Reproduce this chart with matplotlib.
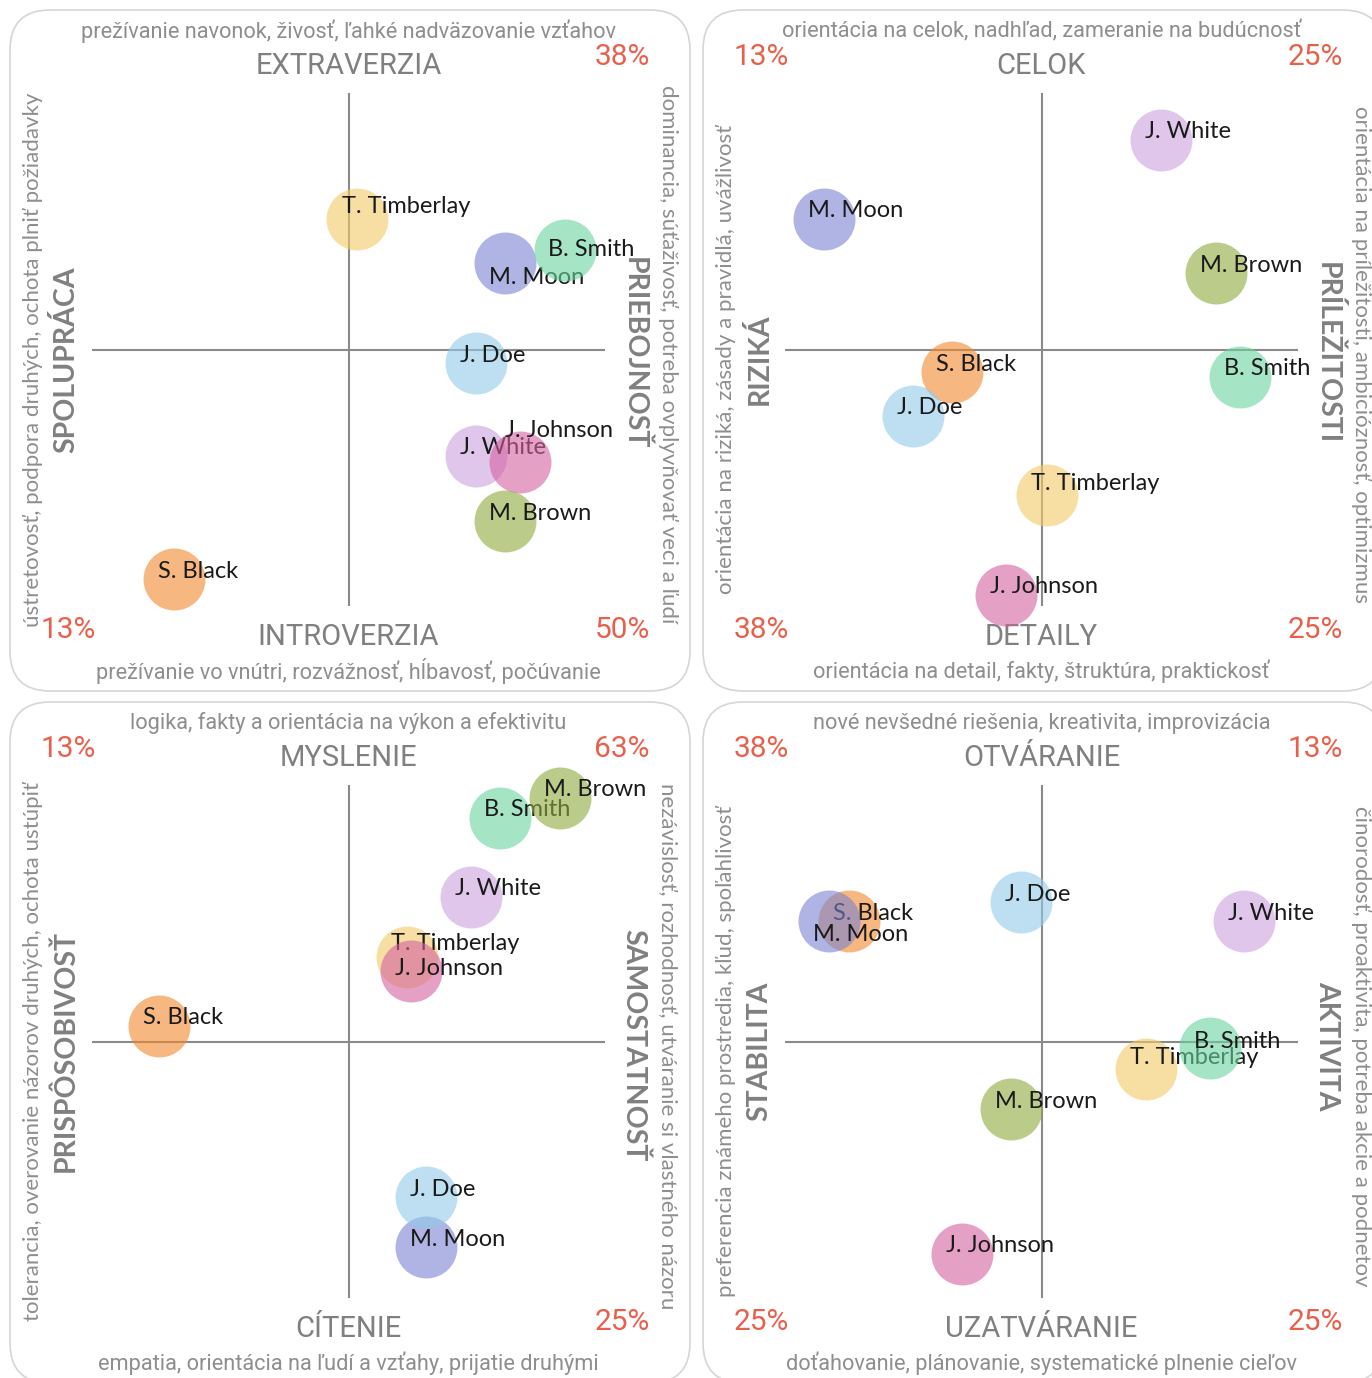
"""Four-quadrant team profile chart (bubbles per person)"""

import numpy as np
import matplotlib
matplotlib.use('Agg')
import matplotlib.pyplot as plt
from matplotlib.patches import FancyBboxPatch

W, H = 1372, 1378

names = ['S. Black', 'M. Moon', 'J. Doe', 'T. Timberlay', 'B. Smith', 'J. White', 'J. Johnson', 'M. Brown']
colors = ['#f0892b', '#7b82d2', '#91cbe9', '#f3cb67', '#6bd2a0', '#cda0df', '#d561a0', '#8faa3c']

# positions on each axis pair, -1..1, same order as names
ext_x = [-0.68, 0.61, 0.497, 0.033, 0.844, 0.497, 0.669, 0.61]
ext_y = [-0.895, 0.337, -0.053, 0.509, 0.388, -0.415, -0.439, -0.669]
cel_x = [-0.348, -0.848, -0.5, 0.023, 0.773, 0.465, -0.137, 0.68]
cel_y = [-0.088, 0.509, -0.259, -0.567, -0.107, 0.817, -0.957, 0.298]
mys_x = [-0.739, 0.302, 0.302, 0.228, 0.591, 0.478, 0.244, 0.825]
mys_y = [0.062, -0.803, -0.608, 0.331, 0.873, 0.565, 0.273, 0.951]
otv_x = [-0.75, -0.828, -0.078, 0.406, 0.656, 0.789, -0.309, -0.117]
otv_y = [0.468, 0.468, 0.542, -0.109, -0.027, 0.468, -0.827, -0.265]

panels = [
    dict(x=ext_x, y=ext_y,
         top='EXTRAVERZIA', top_desc='prežívanie navonok, živosť, ľahké nadväzovanie vzťahov',
         bottom='INTROVERZIA', bottom_desc='prežívanie vo vnútri, rozvážnosť, hĺbavosť, počúvanie',
         left='SPOLUPRÁCA', left_desc='ústretovosť, podpora druhých, ochota plniť požiadavky',
         right='PRIEBOJNOSŤ', right_desc='dominancia, súťaživosť, potreba ovplyvňovať veci a ľudí'),
    dict(x=cel_x, y=cel_y,
         top='CELOK', top_desc='orientácia na celok, nadhľad, zameranie na budúcnosť',
         bottom='DETAILY', bottom_desc='orientácia na detail, fakty, štruktúra, praktickosť',
         left='RIZIKÁ', left_desc='orientácia na riziká, zásady a pravidlá, uvážlivosť',
         right='PRÍLEŽITOSTI', right_desc='orientácia na príležitosti, ambicióznosť, optimizmus'),
    dict(x=mys_x, y=mys_y,
         top='MYSLENIE', top_desc='logika, fakty a orientácia na výkon a efektivitu',
         bottom='CÍTENIE', bottom_desc='empatia, orientácia na ľudí a vzťahy, prijatie druhými',
         left='PRISPÔSOBIVOSŤ', left_desc='tolerancia, overovanie názorov druhých, ochota ustúpiť',
         right='SAMOSTATNOSŤ', right_desc='nezávislosť, rozhodnosť, utváranie si vlastného názoru'),
    dict(x=otv_x, y=otv_y,
         top='OTVÁRANIE', top_desc='nové nevšedné riešenia, kreativita, improvizácia',
         bottom='UZATVÁRANIE', bottom_desc='doťahovanie, plánovanie, systematické plnenie cieľov',
         left='STABILITA', left_desc='preferencia známeho prostredia, kľud, spoľahlivosť',
         right='AKTIVITA', right_desc='činorodosť, proaktivita, potreba akcie a podnetov'),
]

# label nudges in pixels (dx, dy up), default is left of centre and a bit up
label_nudge = [
    {'T. Timberlay': (-15, 12), 'M. Moon': (-16, -14), 'B. Smith': (-17, 0), 'J. Johnson': (-15, 32)},
    {'T. Timberlay': (-16, 11)},
    {'T. Timberlay': (-16, 13), 'J. Johnson': (-16, 3)},
    {'M. Moon': (-16, -13), 'B. Smith': (-16, 7), 'T. Timberlay': (-16, 12)},
]

GRAY_DESC = '#8e8e8e'
GRAY_TITLE = '#808080'
RED = '#e8604c'
DESC_FONT = 'Roboto'
SIDE_FONT = 'Lato'

fig = plt.figure(figsize=(W / 100, H / 100), dpi=100)
bg = fig.add_axes([0, 0, 1, 1])
bg.set_xlim(0, W)
bg.set_ylim(H, 0)
bg.axis('off')

offsets = [(0, 0), (693, 0), (0, 692), (693, 692)]

for k, (p, (ox, oy)) in enumerate(zip(panels, offsets)):
    bg.add_patch(FancyBboxPatch((10 + ox, 10 + oy), 680, 681,
                                boxstyle='round,pad=0,rounding_size=40',
                                fc='white', ec='#d6d6d6', lw=1.2))
    cx, cy = 348.5 + ox, 349.5 + oy

    ax = fig.add_axes([(92 + ox) / W, 1 - (606 + oy) / H, 513 / W, 513 / H])
    ax.set_xlim(-1, 1)
    ax.set_ylim(-1, 1)
    ax.axis('off')
    ax.patch.set_alpha(0)
    ax.plot([-1, 1], [0, 0], color='#8a8a8a', lw=1.5, zorder=1)
    ax.plot([0, 0], [-1, 1], color='#8a8a8a', lw=1.5, zorder=1)

    for i, (n, c, xv, yv) in enumerate(zip(names, colors, p['x'], p['y'])):
        ax.scatter([xv], [yv], s=1990, color=c, alpha=0.6, lw=0, zorder=2 + i, clip_on=False)
        dx, dy = label_nudge[k].get(n, (-16, 8))
        ax.annotate(n, (xv, yv), xytext=(dx, dy), textcoords='offset pixels',
                    ha='left', va='center', fontsize=17, family=SIDE_FONT,
                    color='#1a1a1a', zorder=2.5 + i, annotation_clip=False)

    # share of people in each quadrant
    xs, ys = np.array(p['x']), np.array(p['y'])
    quads = [(xs < 0) & (ys > 0), (xs > 0) & (ys > 0), (xs < 0) & (ys < 0), (xs > 0) & (ys < 0)]
    spots = [(68 + ox, 57 + oy), (622 + ox, 57 + oy), (68 + ox, 630 + oy), (622 + ox, 630 + oy)]
    for q, (sx, sy) in zip(quads, spots):
        pct = int(np.floor(100 * q.sum() / len(xs) + 0.5))
        if pct > 0:
            bg.text(sx, sy, f'{pct}%', ha='center', va='center', fontsize=21.5,
                    family=DESC_FONT, color=RED)

    bg.text(cx, 31 + oy, p['top_desc'], ha='center', va='center', fontsize=15.7,
            family=DESC_FONT, color=GRAY_DESC)
    bg.text(cx, 66 + oy, p['top'], ha='center', va='center', fontsize=21,
            family=DESC_FONT, color=GRAY_TITLE)
    bg.text(cx, 637 + oy, p['bottom'], ha='center', va='center', fontsize=21,
            family=DESC_FONT, color=GRAY_TITLE)
    bg.text(cx, 671 + oy, p['bottom_desc'], ha='center', va='center', fontsize=15.7,
            family=DESC_FONT, color=GRAY_DESC)

    bg.text(33 + ox, cy + 10, p['left_desc'], ha='center', va='center', rotation=90,
            fontsize=16, family=SIDE_FONT, color=GRAY_DESC)
    bg.text(66 + ox, cy + 10, p['left'], ha='center', va='center', rotation=90,
            fontsize=20.5, family=SIDE_FONT, fontweight='bold', color=GRAY_TITLE)
    bg.text(668 + ox, cy + 5, p['right_desc'], ha='center', va='center', rotation=-90,
            fontsize=16, family=SIDE_FONT, color=GRAY_DESC)
    bg.text(634 + ox, cy + 4, p['right'], ha='center', va='center', rotation=-90,
            fontsize=20.5, family=SIDE_FONT, fontweight='bold', color=GRAY_TITLE)

fig.savefig('out.png', dpi=100)
